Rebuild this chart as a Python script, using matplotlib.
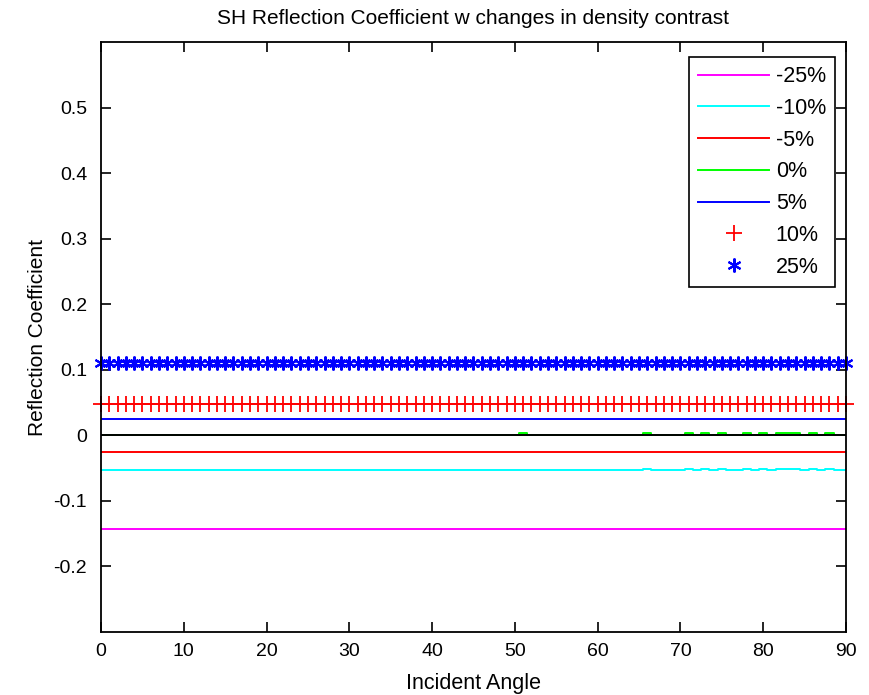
import numpy as np
import matplotlib
matplotlib.use("Agg")
import matplotlib.pyplot as plt

plt.rcParams['font.family'] = ['Liberation Sans', 'DejaVu Sans']

# Incident angles (degrees)
angles = np.arange(0, 91, 1)

# Density contrast cases and their SH reflection coefficients
labels = ['-25%', '-10%', '-5%', '0%', '5%', '10%', '25%']
r_m25 = -0.1429
r_m10 = -0.0526
r_m5 = -0.0256
r_0 = 0.0
r_p5 = 0.0244
r_p10 = 0.0476
r_p25 = 0.1111

# Small numerical excursions seen at large angles
bump_angles_0 = [51, 66, 71, 73, 75, 78, 80, 82, 83, 84, 86, 88]
bump_value_0 = 0.0033
bump_angles_m10 = [66, 71, 73, 75, 78, 80, 82, 83, 84, 86, 88]
bump_value_m10 = -0.0511

zero_level = 0.0

y_m25 = np.full(angles.shape, r_m25)
y_m10 = np.full(angles.shape, r_m10)
y_m10[np.isin(angles, bump_angles_m10)] = bump_value_m10
y_m5 = np.full(angles.shape, r_m5)
y_0 = np.full(angles.shape, r_0)
y_0[np.isin(angles, bump_angles_0)] = bump_value_0
y_p5 = np.full(angles.shape, r_p5)
y_p10 = np.full(angles.shape, r_p10)
y_p25 = np.full(angles.shape, r_p25)

fig = plt.figure(figsize=(8.69, 6.95), dpi=100)
ax = fig.add_axes([101 / 869, 1 - 632 / 695, 745 / 869, 590 / 695])

lw = 1.4
ax.plot(angles, y_m25, color='#ff00ff', lw=lw, label=labels[0])
ax.plot(angles, y_m10, color='#00ffff', lw=lw, drawstyle='steps-mid', label=labels[1])
ax.plot(angles, y_m5, color='#ff0000', lw=lw, label=labels[2])
ax.plot(angles, y_0, color='#00ff00', lw=lw, drawstyle='steps-mid', label=labels[3])
ax.plot(angles, y_p5, color='#0000ff', lw=lw, label=labels[4])
ax.plot(angles, y_p10, linestyle='none', marker='+', color='#ff0000',
        markersize=11, markeredgewidth=1.3, clip_on=False, label=labels[5])
ax.plot(angles, y_p25, linestyle='none', marker=(6, 2, 0), color='#0000ff',
        markersize=10, markeredgewidth=1.5, clip_on=False, label=labels[6])
ax.plot([angles[0], angles[-1]], [zero_level, zero_level], color='k', lw=lw, zorder=3)

ax.set_xlim(0, 90)
ax.set_ylim(-0.3, 0.6)
ax.set_xticks(np.arange(0, 91, 10))
ax.set_yticks([-0.2, -0.1, 0, 0.1, 0.2, 0.3, 0.4, 0.5])
ax.set_yticklabels(['-0.2', '-0.1', '0', '0.1', '0.2', '0.3', '0.4', '0.5'])
ax.tick_params(direction='in', top=True, right=True, length=7, width=1.2,
               labelsize=14)
ax.tick_params(axis='x', pad=8)
ax.tick_params(axis='y', pad=10)
for s in ax.spines.values():
    s.set_linewidth(1.3)

ax.set_title('SH Reflection Coefficient w changes in density contrast', fontsize=15, pad=13)
ax.set_xlabel('Incident Angle', fontsize=15.5, labelpad=9)
ax.set_ylabel('Reflection Coefficient', fontsize=15, labelpad=5)

leg = ax.legend(loc='upper right', bbox_to_anchor=(835 / 869, 1 - 57 / 695),
                bbox_transform=fig.transFigure, borderaxespad=0,
                numpoints=1, fontsize=15.5, fancybox=False,
                edgecolor='k', framealpha=1, handlelength=3.3, handletextpad=0.3,
                borderpad=0.42, labelspacing=0.5)
leg.get_frame().set_linewidth(1.2)

fig.savefig('out.png', dpi=100)
